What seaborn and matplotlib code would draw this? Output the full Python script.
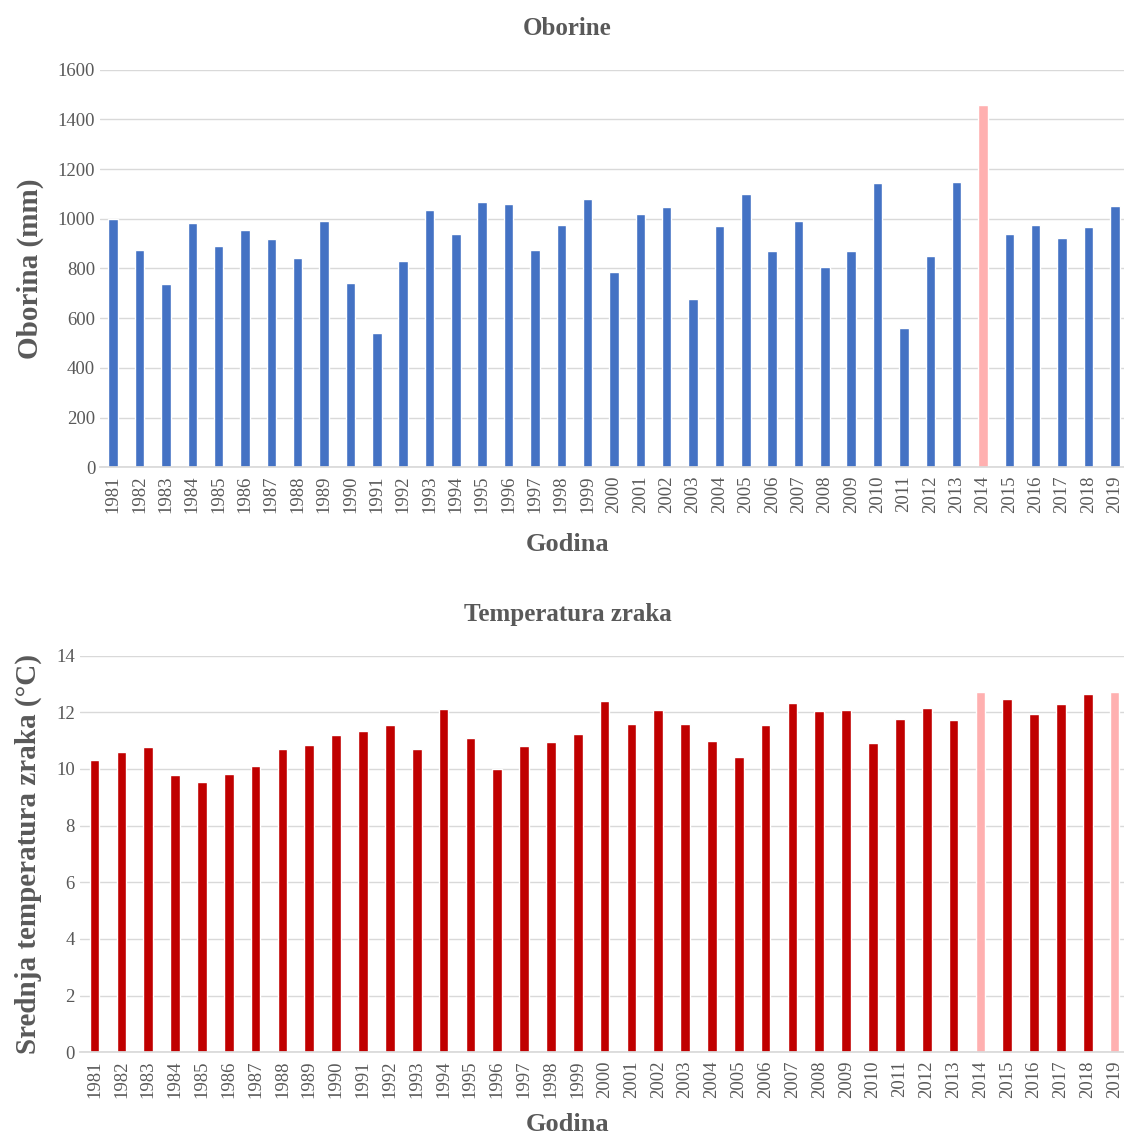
import matplotlib
matplotlib.use("Agg")
import matplotlib.pyplot as plt
import seaborn as sns
import pandas as pd

years = [str(y) for y in range(1981, 2020)]

oborine = [1000, 876, 736, 981, 892, 953, 917, 844, 989, 740,
           539, 832, 1037, 937, 1069, 1061, 876, 973, 1081, 784,
           1021, 1049, 679, 969, 1101, 872, 989, 804, 872, 1142,
           559, 852, 1146, 1459, 937, 973, 921, 965, 1053]

temperatura = [10.32, 10.59, 10.76, 9.78, 9.54, 9.83, 10.10, 10.69, 10.83, 11.21,
               11.32, 11.56, 10.71, 12.12, 11.10, 10.01, 10.79, 10.95, 11.24, 12.39,
               11.58, 12.07, 11.60, 10.99, 10.43, 11.53, 12.32, 12.05, 12.06, 10.92,
               11.75, 12.16, 11.71, 12.71, 12.46, 11.92, 12.29, 12.65, 12.71]

istaknute_oborine = ["2014"]
istaknute_temp = ["2014", "2019"]

plava = "#4472C4"
crvena = "#C00000"
roza = "#FFB0B0"
siva = "#595959"

sns.set_theme(style="white")
plt.rcParams["font.family"] = ["Liberation Serif", "DejaVu Serif"]

df1 = pd.DataFrame({"godina": years, "vrijednost": oborine})
df2 = pd.DataFrame({"godina": years, "vrijednost": temperatura})

fig = plt.figure(figsize=(11.24, 11.40), dpi=100)
pos1 = [0.089, 0.590, 0.911, 0.349]
pos2 = [0.071, 0.077, 0.929, 0.348]
ax1 = fig.add_axes(pos1)
ax2 = fig.add_axes(pos2)

pal1 = [roza if g in istaknute_oborine else plava for g in years]
pal2 = [roza if g in istaknute_temp else crvena for g in years]

sns.barplot(data=df1, x="godina", y="vrijednost", hue="godina", palette=pal1,
            legend=False, width=0.36, ax=ax1, saturation=1)
sns.barplot(data=df2, x="godina", y="vrijednost", hue="godina", palette=pal2,
            legend=False, width=0.36, ax=ax2, saturation=1)

def uredi(ax, pos, naslov, ylab, ylim, korak, xlim, xlpad):
    ax.set_ylim(0, ylim)
    ax.set_yticks(range(0, ylim + 1, korak))
    ax.set_xlim(*xlim)
    ax.yaxis.grid(True, color="#D9D9D9", linewidth=1)
    ax.set_axisbelow(True)
    for s in ["top", "right", "left"]:
        ax.spines[s].set_visible(False)
    ax.spines["bottom"].set_color("#D9D9D9")
    ax.tick_params(axis="both", length=0, colors=siva, labelsize=13.5)
    ax.tick_params(axis="x", rotation=90, pad=6)
    cx = (0.505 - pos[0]) / pos[2]
    ax.set_title(naslov, fontsize=18, fontweight="bold", color=siva, pad=25, x=cx)
    ax.set_xlabel("Godina", fontsize=19, fontweight="bold", color=siva, labelpad=xlpad)
    ax.xaxis.label.set_x(cx)
    ax.set_ylabel(ylab, fontsize=21, fontweight="bold", color=siva, labelpad=10)

uredi(ax1, pos1, "Oborine", "Oborina (mm)", 1600, 200, (-0.5, 38.35), 14)
uredi(ax2, pos2, "Temperatura zraka", "Srednja temperatura zraka (°C)", 14, 2, (-0.55, 38.35), 11)

fig.savefig("out.png", dpi=100)
